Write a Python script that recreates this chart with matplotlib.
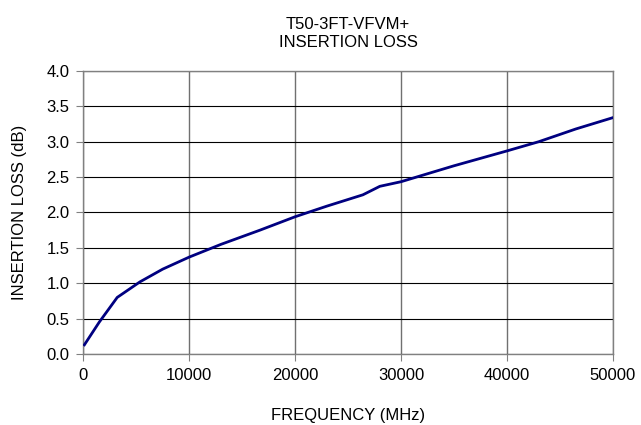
import matplotlib
matplotlib.use('Agg')
import matplotlib.pyplot as plt

# insertion loss
freq_mhz = [100, 1500, 3200, 5350, 7500, 10000, 13000, 16670, 20000, 23000, 26400, 28000,
            30000, 35000, 40000, 43000, 46500, 50000]
loss_db = [0.13, 0.45, 0.80, 1.02, 1.20, 1.37, 1.55, 1.75, 1.94, 2.09, 2.25, 2.37,
           2.435, 2.66, 2.87, 3.00, 3.18, 3.34]

x_ticks = [0, 10000, 20000, 30000, 40000, 50000]
y_ticks = [0.0, 0.5, 1.0, 1.5, 2.0, 2.5, 3.0, 3.5, 4.0]

plt.rcParams['font.family'] = ['Liberation Sans', 'DejaVu Sans']

fig = plt.figure(figsize=(6.41, 4.25), dpi=100)
ax = fig.add_axes([0.13, 0.167, 0.826, 0.666])

ax.plot(freq_mhz, loss_db, color='#000080', linewidth=2.0, zorder=3)

ax.set_xlim(0, 50000)
ax.set_ylim(0, 4.0)
ax.set_xticks(x_ticks)
ax.set_xticklabels([str(v) for v in x_ticks])
ax.set_yticks(y_ticks)
ax.set_yticklabels(['%.1f' % v for v in y_ticks])

ax.grid(True, color='black', linewidth=0.8)
ax.grid(True, axis='x', color='#707070', linewidth=1.0)
for s in ax.spines.values():
    s.set_color('#808080')
    s.set_linewidth(1.0)
ax.tick_params(axis='both', direction='out', length=5, color='#808080', labelsize=12, pad=5)

ax.set_xlabel('FREQUENCY (MHz)', fontsize=12, labelpad=18)
ax.set_ylabel('INSERTION LOSS (dB)', fontsize=12, labelpad=14)
ax.set_title('T50-3FT-VFVM+\nINSERTION LOSS', fontsize=12, pad=17, linespacing=1.3)

fig.savefig('out.png', dpi=100)
